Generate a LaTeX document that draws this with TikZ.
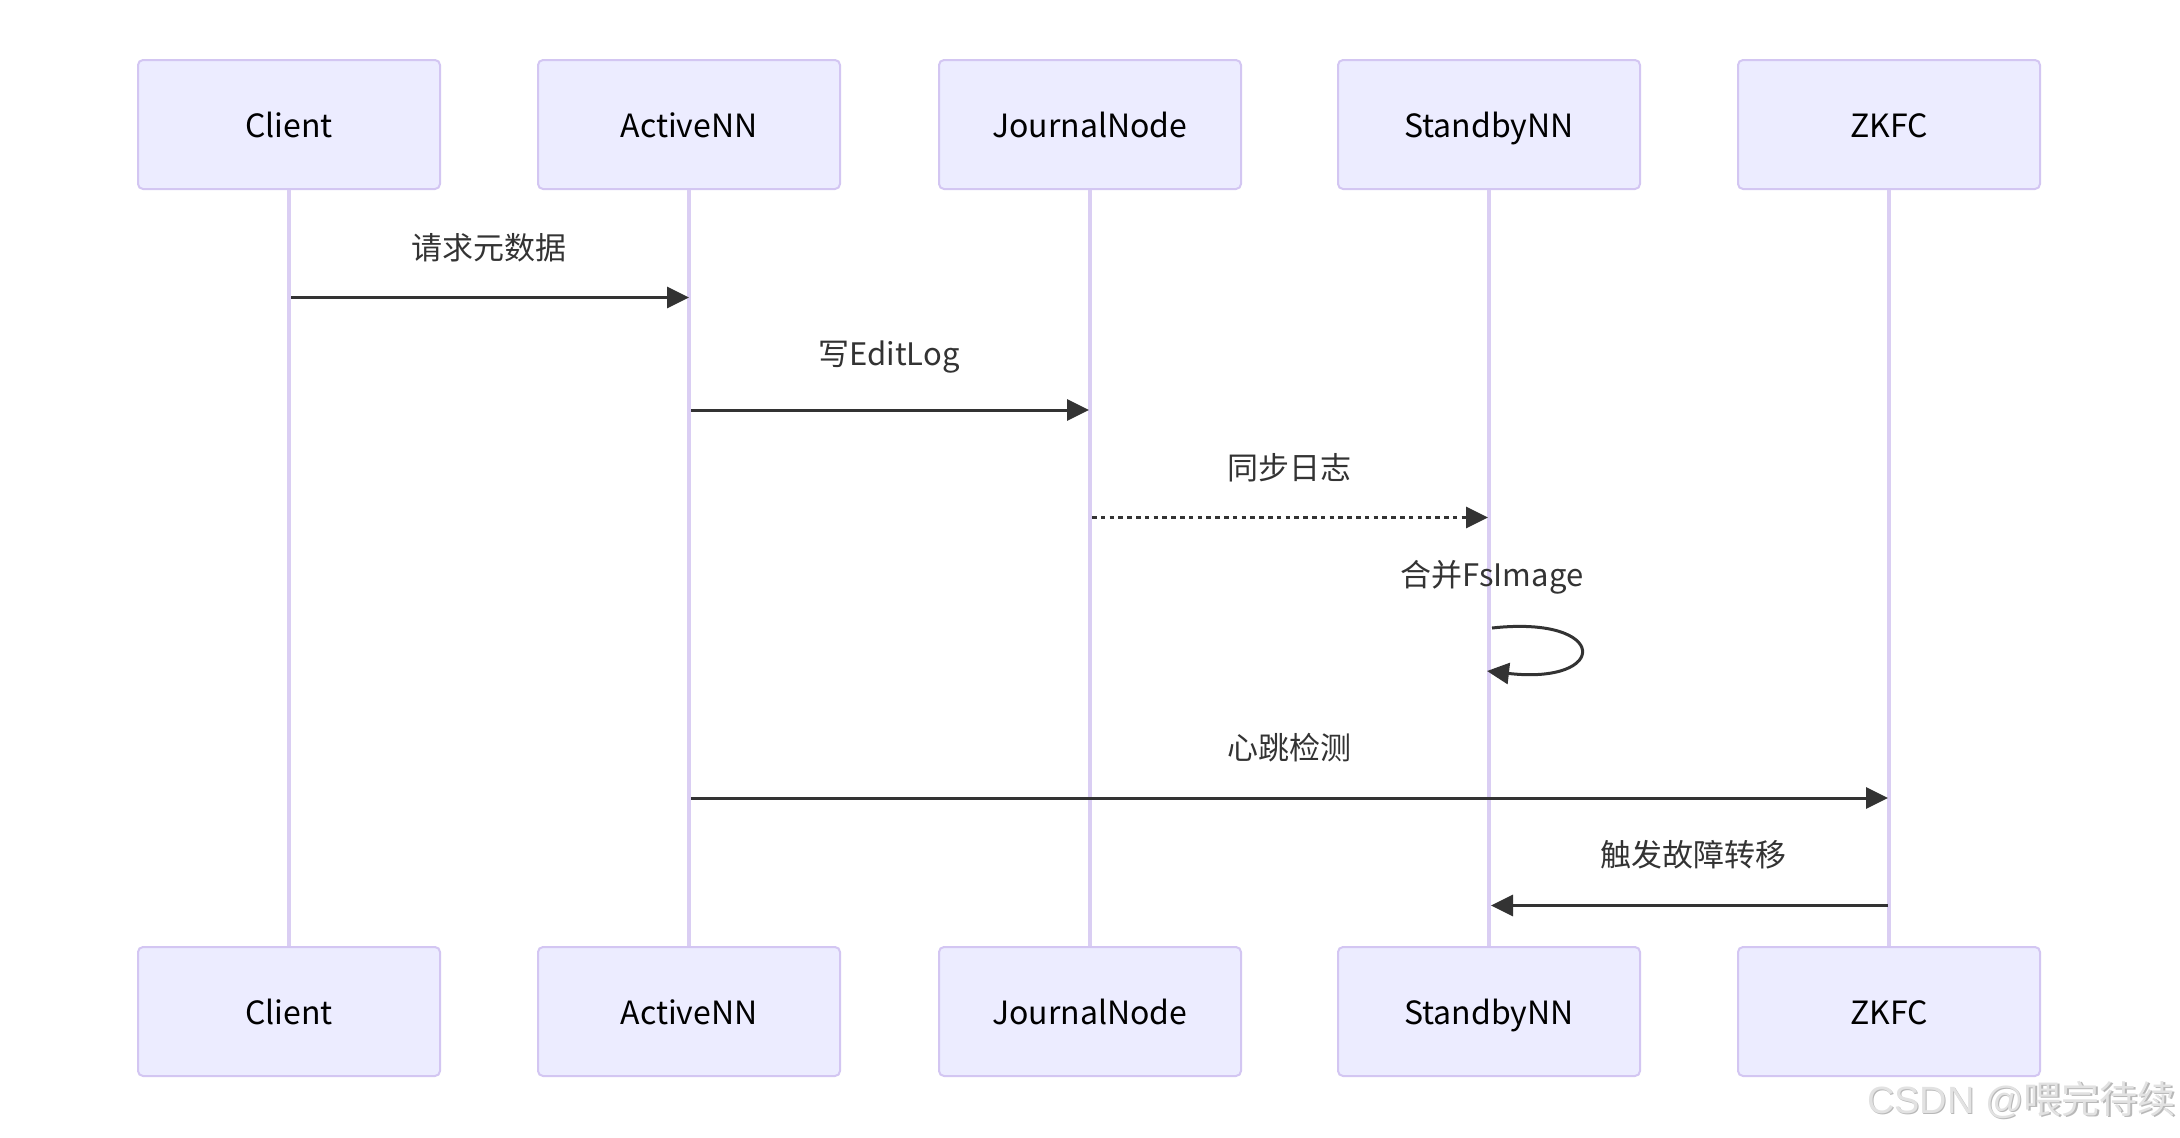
\documentclass[tikz,border=0pt]{standalone}
\usepackage{fontspec}
\setmainfont{Noto Sans CJK SC}
\newfontfamily\wmlatin{Liberation Sans}
\usetikzlibrary{arrows.meta}
\definecolor{actfill}{HTML}{ECECFF}
\definecolor{actborder}{HTML}{D3C6F2}
\definecolor{lifecol}{HTML}{DACEF3}
\definecolor{msgcol}{HTML}{333333}
\definecolor{wmcol}{HTML}{E2E2E2}
\definecolor{wmshade}{HTML}{B8B8B8}
\tikzset{
  actor/.style={draw=actborder, fill=actfill, line width=2pt, rounded corners=5pt,
    minimum width=302pt, minimum height=129pt, inner sep=0pt,
    text height=26pt, text depth=0pt,
    font=\fontsize{32}{38}\selectfont, text=black},
  lifeline/.style={draw=lifecol, line width=3.5pt},
  msg/.style={draw=msgcol, line width=3pt, -{Triangle[length=22pt,width=21pt]}},
  dottedmsg/.style={msg, dash pattern=on 4.6pt off 4.2pt},
  msglabel/.style={font=\fontsize{31}{36}\selectfont, text=msgcol, inner sep=0pt},
  wmtext/.style={anchor=east, inner sep=0pt, font=\fontsize{38}{42}\selectfont},
}
\begin{document}
\begin{tikzpicture}[x=1pt,y=-1pt]
\useasboundingbox (0,0) rectangle (2180,1138);
% actors top
\node[actor] (c1) at (289,124.5) {Client};
\node[actor] (a1) at (689,124.5) {ActiveNN};
\node[actor] (j1) at (1090,124.5) {JournalNode};
\node[actor] (s1) at (1489,124.5) {StandbyNN};
\node[actor] (z1) at (1889,124.5) {ZKFC};
% actors bottom
\node[actor] (c2) at (289,1011.5) {Client};
\node[actor] (a2) at (689,1011.5) {ActiveNN};
\node[actor] (j2) at (1090,1011.5) {JournalNode};
\node[actor] (s2) at (1489,1011.5) {StandbyNN};
\node[actor] (z2) at (1889,1011.5) {ZKFC};
% lifelines
\foreach \n in {c,a,j,s,z} {
  \draw[lifeline] (\n1.south) -- (\n2.north);
}
% message anchor points
\coordinate (m1s) at (291,297.5);  \coordinate (m1e) at (689,297.5);
\coordinate (m2s) at (691,410);    \coordinate (m2e) at (1089,410);
\coordinate (m3s) at (1092,517.5); \coordinate (m3e) at (1488,517.5);
\coordinate (m4s) at (1492,628);   \coordinate (m4e) at (1487,671);
\coordinate (m5s) at (691,798);    \coordinate (m5e) at (1888,798);
\coordinate (m6s) at (1888,905.5); \coordinate (m6e) at (1491,905.5);
% messages
\draw[msg] (m1s) -- (m1e);
\node[msglabel] (l1) at (489,248) {请求元数据};
\draw[msg] (m2s) -- (m2e);
\node[msglabel] (l2) at (889,357) {写EditLog};
\draw[dottedmsg] (m3s) -- (m3e);
\node[msglabel] (l3) at (1289,468) {同步日志};
\draw[msg] (m4s) .. controls (1610,615) and (1610,685) .. (m4e);
\node[msglabel] (l4) at (1492,577) {合并FsImage};
\draw[msg] (m5s) -- (m5e);
\node[msglabel] (l5) at (1289,748) {心跳检测};
\draw[msg] (m6s) -- (m6e);
\node[msglabel] (l6) at (1693,855) {触发故障转移};
% watermark
\node[wmtext, text=wmshade] (wms) at (2177.2,1101.2) {{\wmlatin CSDN @}喂完待续};
\node[wmtext, text=wmcol] (wm) at (2176,1100) {{\wmlatin CSDN @}喂完待续};
\end{tikzpicture}
\end{document}
